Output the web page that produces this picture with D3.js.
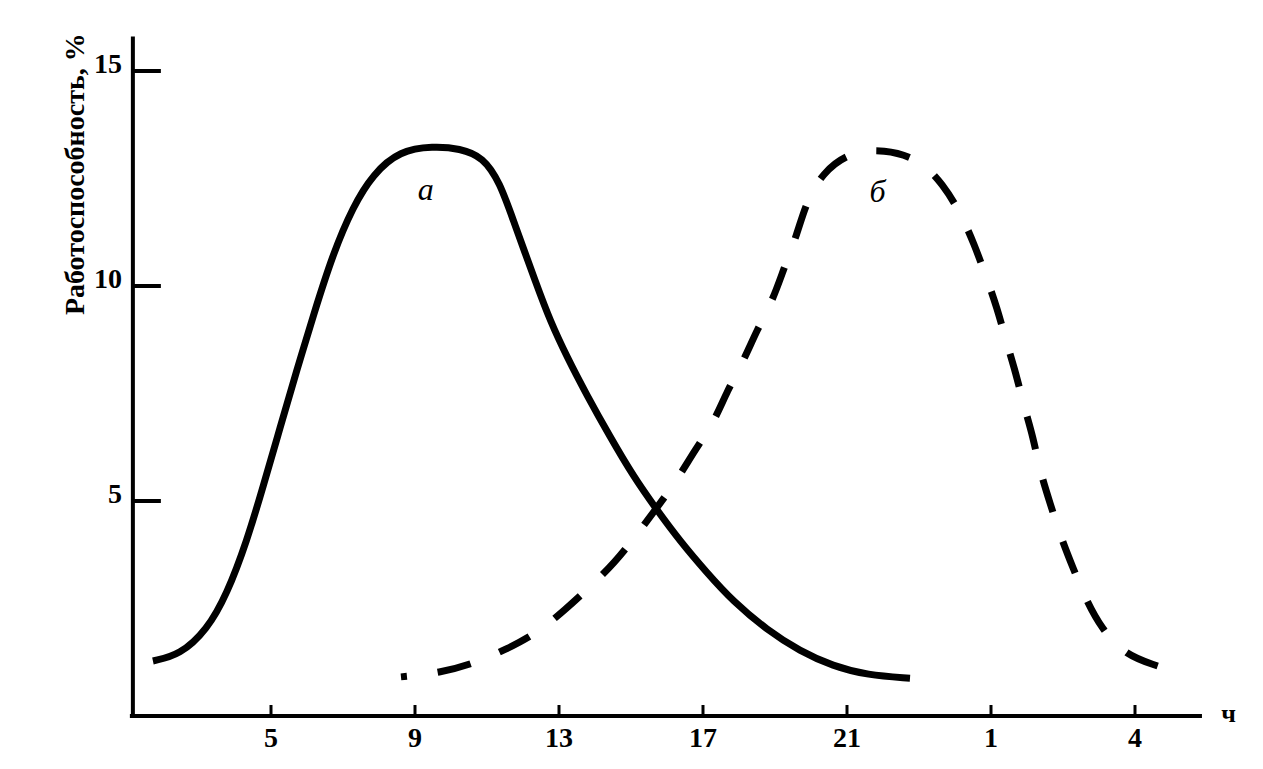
<!DOCTYPE html>
<html>
<head>
<meta charset="utf-8">
<script src="https://cdn.jsdelivr.net/npm/d3@7"></script>
<style>
  html, body { margin: 0; padding: 0; background: #fff; }
  svg { display: block; }
  text { font-family: "Liberation Serif", "Times New Roman", "DejaVu Serif", serif; fill: #000; }
</style>
</head>
<body>
<svg id="chart" width="1263" height="769"></svg>
<script>
// ---- data ----
const hourTicks = [5, 9, 13, 17, 21, 25, 29];
const hourLabels = ["5", "9", "13", "17", "21", "1", "4"];
const yTicks = [5, 10, 15];

// curve "а" (solid): time (h), performance (%)
const curveAHours = [1.72, 2.47, 3.22, 3.78, 4.33, 4.78, 5.25, 5.72, 6.17, 6.72, 7.28, 7.83, 8.58, 9.50, 10.25, 10.89, 11.36, 11.72, 12.39, 12.75, 13.22, 13.78, 14.42, 15.06, 15.72, 16.36, 17.11, 17.83, 18.78, 19.69, 20.61, 21.56, 22.75];
const curveAValues = [1.28, 1.42, 2.00, 2.84, 4.07, 5.33, 6.70, 8.05, 9.30, 10.75, 11.85, 12.60, 13.15, 13.25, 13.20, 13.00, 12.40, 11.55, 10.00, 9.20, 8.35, 7.45, 6.49, 5.58, 4.79, 4.07, 3.33, 2.67, 2.00, 1.51, 1.16, 0.95, 0.88];

// curve "б" (dashed)
const curveBHours = [8.61, 9.69, 10.67, 11.56, 12.39, 13.17, 13.86, 14.56, 15.11, 15.69, 16.28, 16.78, 17.31, 17.67, 18.11, 18.50, 18.94, 19.25, 19.61, 19.86, 20.31, 21.08, 22.03, 23.00, 23.67, 24.17, 24.53, 24.86, 25.17, 25.42, 25.69, 25.92, 26.17, 26.36, 26.64, 26.94, 27.28, 27.64, 28.08, 28.72, 29.64];
const curveBValues = [0.91, 1.00, 1.23, 1.56, 1.93, 2.47, 3.00, 3.58, 4.16, 4.81, 5.49, 6.19, 6.84, 7.56, 8.23, 8.98, 9.67, 10.42, 11.19, 11.93, 12.63, 13.12, 13.18, 12.96, 12.37, 11.67, 10.98, 10.23, 9.49, 8.72, 7.98, 7.19, 6.49, 5.70, 4.95, 4.16, 3.44, 2.70, 2.02, 1.42, 1.16];

const yTitle = "Работоспособность, %";
const unitLabel = "ч";
const labelA = "а";
const labelB = "б";

// ---- drawing ----
const svg = d3.select("#chart");
const x = d3.scaleLinear().domain([5, 29]).range([271, 1135]);
const y = d3.scaleLinear().domain([0, 15]).range([716, 71]);

const xMin = 1.08, xMax = 30.86, yMax = 15.8;

// x axis line
svg.append("line")
  .attr("x1", x(xMin)).attr("x2", x(xMax))
  .attr("y1", y(0)).attr("y2", y(0))
  .attr("stroke", "#000").attr("stroke-width", 4);

// y axis line
svg.append("line")
  .attr("x1", x(xMin) + 3).attr("x2", x(xMin) + 3)
  .attr("y1", y(0) + 2).attr("y2", y(yMax))
  .attr("stroke", "#000").attr("stroke-width", 4);

// x ticks (upward) and labels
const xg = svg.append("g");
xg.selectAll("line.xt").data(hourTicks).enter().append("line")
  .attr("x1", d => x(d)).attr("x2", d => x(d))
  .attr("y1", y(0)).attr("y2", y(0) - 11)
  .attr("stroke", "#000").attr("stroke-width", 3);
xg.selectAll("text.xl").data(hourTicks).enter().append("text")
  .attr("x", d => x(d)).attr("y", y(0) + 31)
  .attr("text-anchor", "middle")
  .attr("font-size", 28).attr("font-weight", "bold")
  .text((d, i) => hourLabels[i]);

// y ticks (rightward) and labels
const yg = svg.append("g");
yg.selectAll("line.yt").data(yTicks).enter().append("line")
  .attr("x1", x(xMin) + 3).attr("x2", x(xMin) + 31)
  .attr("y1", d => y(d)).attr("y2", d => y(d))
  .attr("stroke", "#000").attr("stroke-width", 4);
yg.selectAll("text.yl").data(yTicks).enter().append("text")
  .attr("x", x(xMin) - 8).attr("y", d => y(d) + 2)
  .attr("text-anchor", "end")
  .attr("font-size", 28).attr("font-weight", "bold")
  .text(d => d);

// y title
svg.append("text")
  .attr("transform", `translate(84, ${y(12.6)}) rotate(-90)`)
  .attr("text-anchor", "middle")
  .attr("font-size", 28).attr("font-weight", "bold")
  .text(yTitle);

// unit label
svg.append("text")
  .attr("x", x(31.6)).attr("y", y(0) + 6)
  .attr("text-anchor", "middle")
  .attr("font-size", 26).attr("font-weight", "bold")
  .text(unitLabel);

const line = d3.line()
  .x(d => x(d[0])).y(d => y(d[1]))
  .curve(d3.curveBasis);

const dataA = curveAHours.map((h, i) => [h, curveAValues[i]]);
const dataB = curveBHours.map((h, i) => [h, curveBValues[i]]);

svg.append("path").datum(dataA)
  .attr("d", line)
  .attr("fill", "none").attr("stroke", "#000")
  .attr("stroke-width", 7).attr("stroke-linecap", "butt");

svg.append("path").datum(dataB)
  .attr("d", line)
  .attr("fill", "none").attr("stroke", "#000")
  .attr("stroke-width", 7).attr("stroke-linecap", "butt")
  .attr("stroke-dasharray", "34,31")
  .attr("stroke-dashoffset", 28);

// curve labels
svg.append("text")
  .attr("x", x(9.3)).attr("y", y(12.0))
  .attr("text-anchor", "middle")
  .attr("font-size", 32).attr("font-style", "italic")
  .text(labelA);
svg.append("text")
  .attr("x", x(21.85)).attr("y", y(11.95))
  .attr("text-anchor", "middle")
  .attr("font-size", 32).attr("font-style", "italic")
  .text(labelB);
</script>
</body>
</html>
